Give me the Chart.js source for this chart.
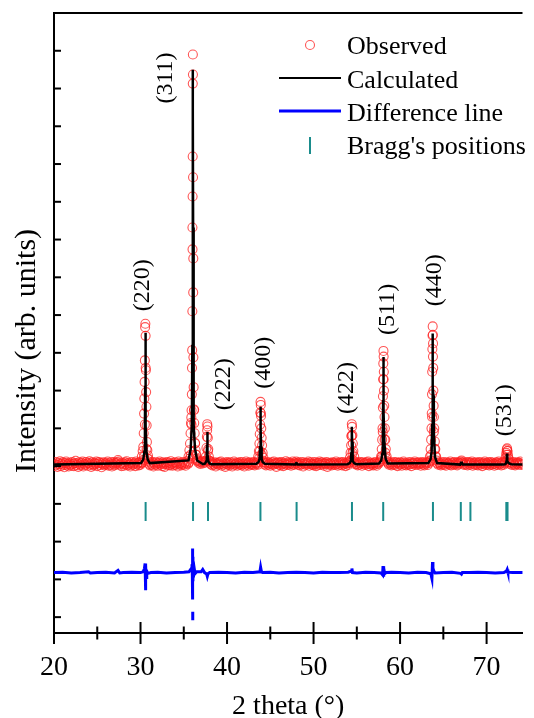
<!DOCTYPE html>
<html>
<head>
<meta charset="utf-8">
<script src="https://cdn.jsdelivr.net/npm/chart.js@4.4.1/dist/chart.umd.min.js"></script>
<style>
  html, body { margin: 0; padding: 0; background: #fff; }
</style>
</head>
<body>
<canvas id="xrd" width="534" height="718"></canvas>
<script>
// observed pattern on the 2-theta grid (start, step) - counts
const obsStart = 20;
const obsStep = 0.1;
const obsBg = [
  4.07, 4.01, 4.11, 4.04, 3.98, 4.09, 4.05, 4.13, 4.00, 4.06,
  4.10, 4.03, 3.97, 4.08, 4.12, 4.02, 4.06, 3.99, 4.09, 4.04,
  4.01, 4.11, 4.06, 4.00, 4.08, 4.14, 4.03, 4.07, 3.98, 4.10,
  4.05, 4.02, 4.09, 4.12, 3.99, 4.06, 4.03, 4.11, 4.07, 4.01,
  4.08, 4.13, 4.04, 3.98, 4.10, 4.05, 4.02, 4.09, 4.06, 4.12,
  4.00, 4.07, 4.11, 4.03, 4.08, 3.97, 4.05, 4.10, 4.02, 4.06,
  4.09, 4.04, 4.12, 4.01, 4.07, 4.03, 4.10, 3.99, 4.06, 4.11,
  4.02, 4.08, 4.05, 4.10, 4.16, 4.12, 4.04, 4.07, 4.00, 4.09,
  4.06, 4.01, 4.10, 4.05, 4.13, 4.02, 4.08, 4.04, 3.99, 4.07,
  4.11, 4.03, 4.06, 4.09, 4.00, 4.12, 4.05, 4.08, 4.02, 4.10,
  4.04, 4.08, 4.10, 4.15, 4.25, 5.10, 6.60, 4.45, 4.20, 4.12,
  4.06, 4.02, 4.09, 4.04, 4.11, 3.99, 4.07, 4.03, 4.10, 4.05,
  4.01, 4.08, 4.12, 4.04, 4.07, 4.00, 4.10, 4.06, 3.98, 4.09,
  4.05, 4.11, 4.03, 4.08, 4.02, 4.13, 4.06, 4.01, 4.09, 4.04,
  4.10, 4.03, 4.07, 3.99, 4.12, 4.05, 4.08, 4.02, 4.06, 4.11,
  4.04, 4.09, 4.01, 4.07, 4.13, 4.06, 4.10, 4.20, 4.30, 5.10,
  10.32, 9.50, 5.50, 4.60, 4.30, 4.20, 4.13, 4.09, 4.12, 4.06,
  4.10, 4.14, 4.07, 4.11, 4.09, 4.13, 4.15, 4.95, 4.40, 4.15,
  4.09, 4.05, 4.11, 4.02, 4.07, 4.04, 4.10, 3.99, 4.06, 4.08,
  4.03, 4.10, 4.05, 4.12, 4.01, 4.07, 4.04, 4.09, 3.98, 4.06,
  4.11, 4.04, 4.08, 4.02, 4.10, 4.05, 3.99, 4.07, 4.12, 4.03,
  4.06, 4.09, 4.01, 4.08, 4.04, 4.11, 4.06, 4.02, 4.10, 4.05,
  3.99, 4.07, 4.12, 4.04, 4.08, 4.01, 4.10, 4.06, 4.03, 4.09,
  4.05, 4.11, 4.02, 4.08, 4.06, 4.10, 4.04, 4.20, 4.40, 5.40,
  4.30, 4.15, 4.10, 4.05, 4.09, 4.02, 4.07, 4.11, 4.04, 4.08,
  4.01, 4.06, 4.10, 4.03, 4.12, 4.05, 4.08, 3.98, 4.07, 4.10,
  4.04, 4.09, 4.02, 4.11, 4.06, 4.00, 4.08, 4.05, 4.13, 4.03,
  4.07, 4.10, 4.04, 4.08, 4.01, 4.06, 4.12, 4.03, 4.09, 4.06,
  4.12, 4.08, 4.04, 4.10, 4.02, 4.07, 4.05, 4.11, 3.99, 4.06,
  4.09, 4.03, 4.08, 4.05, 4.12, 4.01, 4.07, 4.10, 4.04, 4.06,
  4.02, 4.11, 4.06, 4.00, 4.09, 4.04, 4.08, 4.12, 4.03, 4.07,
  4.10, 4.05, 4.01, 4.08, 4.06, 4.11, 3.98, 4.07, 4.04, 4.09,
  4.06, 4.02, 4.10, 4.05, 4.08, 4.03, 4.12, 4.06, 4.01, 4.09,
  4.04, 4.10, 4.07, 4.02, 4.11, 4.05, 4.08, 4.00, 4.06, 4.10,
  4.03, 4.08, 4.12, 4.15, 4.80, 4.35, 4.15, 4.09, 4.05, 4.11,
  4.06, 4.02, 4.09, 4.04, 4.11, 4.07, 4.01, 4.10, 4.05, 4.08,
  4.03, 4.10, 4.06, 4.12, 4.00, 4.07, 4.04, 4.09, 4.06, 4.02,
  4.08, 4.11, 4.05, 4.01, 4.09, 4.06, 4.10, 4.13, 4.18, 4.25,
  4.90, 6.30, 4.70, 4.35, 4.20, 4.12, 4.08, 4.04, 4.10, 4.06,
  4.02, 4.09, 4.05, 4.11, 4.03, 4.07, 4.10, 4.00, 4.08, 4.04,
  4.10, 4.05, 4.01, 4.08, 4.12, 4.04, 4.07, 4.02, 4.09, 4.06,
  4.03, 4.11, 4.06, 4.00, 4.09, 4.05, 4.08, 4.12, 4.03, 4.07,
  4.09, 4.04, 4.10, 4.06, 4.01, 4.08, 4.11, 4.05, 4.02, 4.09,
  4.06, 4.10, 4.03, 4.08, 4.12, 4.15, 4.30, 5.30, 6.90, 4.90,
  4.45, 4.25, 4.15, 4.08, 4.04, 4.10, 4.06, 4.02, 4.09, 4.05,
  4.11, 4.03, 4.07, 4.01, 4.10, 4.06, 4.08, 4.04, 4.12, 4.02,
  4.07, 4.09, 4.04, 4.11, 4.05, 4.08, 4.02, 4.10, 4.06, 4.09,
  4.12, 4.15, 4.10, 4.06, 4.03, 4.09, 4.05, 4.11, 4.02, 4.07,
  4.10, 4.04, 4.08, 4.12, 4.01, 4.06, 4.09, 4.03, 4.10, 4.05,
  4.02, 4.08, 4.11, 4.04, 4.07, 4.00, 4.09, 4.06, 4.12, 4.03,
  4.08, 4.05, 4.10, 4.02, 4.07, 4.11, 4.04, 4.09, 4.06, 4.01,
  4.06, 4.10, 4.03, 4.08, 4.12, 4.05, 4.07, 4.02, 4.09, 4.11,
  4.04, 4.08, 4.12, 4.30, 4.40, 4.20, 4.10, 4.06, 4.09, 4.03,
  4.07, 4.11, 4.05, 4.02, 4.09, 4.06, 4.10, 4.04, 4.08, 4.12,
  4.03, 4.07, 4.05
];

// extra observed points on the peak flanks
const peakObsX = [
  30.15, 30.25, 30.32, 30.37, 30.41, 30.44, 30.47, 30.50, 30.53, 30.56, 30.59, 30.62, 30.65, 30.68, 30.71, 30.74, 30.79, 30.86, 30.95,
  35.55, 35.65, 35.72, 35.78, 35.83, 35.87, 35.90, 35.93, 35.95, 35.97, 35.99, 36.01, 36.02, 36.03, 36.04, 36.05, 36.06, 36.07, 36.09, 36.11, 36.14, 36.17, 36.21, 36.26, 36.31, 36.37, 36.45, 36.55,
  37.55, 37.62, 37.67, 37.71, 37.74, 37.78, 37.83, 37.90, 37.98,
  43.60, 43.68, 43.74, 43.78, 43.82, 43.85, 43.87, 43.90, 43.93, 43.96, 44.00, 44.05, 44.12, 44.20,
  54.20, 54.28, 54.34, 54.38, 54.42, 54.45, 54.49, 54.54, 54.60, 54.70,
  57.80, 57.88, 57.93, 57.97, 58.01, 58.02, 58.04, 58.06, 58.08, 58.10, 58.12, 58.14, 58.17, 58.20, 58.24, 58.29, 58.35, 58.45,
  63.45, 63.53, 63.59, 63.63, 63.66, 63.69, 63.71, 63.73, 63.75, 63.77, 63.79, 63.81, 63.83, 63.85, 63.88, 63.91, 63.95, 64.02, 64.07, 64.17,
  72.20, 72.28, 72.33, 72.37, 72.41, 72.47, 72.55
];
const peakObsY = [
  4.25, 4.40, 4.51, 4.87, 5.39, 5.79, 6.23, 6.80, 7.68, 7.77, 7.45, 6.54, 5.96, 5.57, 5.08, 4.64, 4.42, 4.28, 4.18,
  4.25, 4.42, 4.60, 4.87, 5.14, 5.29, 5.48, 5.90, 6.60, 7.07, 8.10, 9.74, 11.14, 12.20, 14.13, 14.90, 14.37, 11.65, 8.60, 6.88, 6.09, 5.48, 5.14, 4.87, 4.61, 4.42, 4.30, 4.16,
  4.25, 4.48, 4.78, 5.11, 5.05, 4.75, 4.45, 4.25, 4.14,
  4.25, 4.40, 4.60, 4.85, 5.10, 5.42, 5.70, 5.62, 5.33, 5.00, 4.75, 4.55, 4.35, 4.22,
  4.22, 4.35, 4.55, 4.80, 5.11, 5.04, 4.82, 4.60, 4.40, 4.25,
  4.25, 4.45, 4.70, 5.00, 5.55, 5.85, 6.30, 6.72, 7.05, 6.90, 6.50, 6.00, 5.60, 5.30, 5.00, 4.70, 4.45, 4.25,
  4.25, 4.45, 4.70, 5.00, 5.40, 5.90, 6.50, 7.10, 7.46, 7.70, 7.48, 7.25, 6.60, 6.00, 5.60, 5.30, 5.00, 4.65, 4.45, 4.25,
  4.22, 4.35, 4.44, 4.47, 4.40, 4.30, 4.20
];

// calculated profile
const calcX = [
  20.00,
  30.07, 30.32, 30.45, 30.51, 30.54, 30.558, 30.57, 30.582, 30.60, 30.63, 30.69, 30.82, 31.07,
  35.55, 35.80, 35.93, 35.99, 36.02, 36.038, 36.05, 36.062, 36.08, 36.11, 36.17, 36.30, 36.55,
  37.22, 37.47, 37.60, 37.66, 37.69, 37.708, 37.72, 37.732, 37.75, 37.78, 37.84, 37.97, 38.22,
  43.38, 43.63, 43.76, 43.82, 43.85, 43.868, 43.88, 43.892, 43.91, 43.94, 44.00, 44.13, 44.38,
  47.90, 48.00, 48.03, 48.06, 48.15,
  53.93, 54.18, 54.31, 54.37, 54.40, 54.418, 54.43, 54.442, 54.46, 54.49, 54.55, 54.68, 54.93,
  57.57, 57.82, 57.95, 58.01, 58.04, 58.058, 58.07, 58.082, 58.10, 58.13, 58.19, 58.32, 58.57,
  63.27, 63.52, 63.65, 63.71, 63.74, 63.758, 63.77, 63.782, 63.80, 63.84, 63.90, 64.03, 64.27,
  66.95, 67.05, 67.10, 67.15, 67.25,
  71.86, 72.11, 72.24, 72.30, 72.33, 72.348, 72.36, 72.372, 72.39, 72.42, 72.48, 72.60, 72.86,
  74.20
];
const calcY = [
  4.04,
  4.08, 4.18, 4.39, 5.09, 6.13, 7.18, 7.53, 7.18, 6.13, 5.09, 4.39, 4.18, 4.08,
  4.15, 4.46, 5.09, 7.18, 10.32, 13.45, 14.50, 13.45, 10.32, 7.18, 5.09, 4.46, 4.15,
  4.05, 4.07, 4.13, 4.30, 4.56, 4.81, 4.90, 4.81, 4.56, 4.30, 4.13, 4.07, 4.05,
  4.06, 4.10, 4.19, 4.50, 4.96, 5.42, 5.57, 5.42, 4.96, 4.50, 4.19, 4.10, 4.06,
  4.04, 4.08, 4.10, 4.08, 4.04,
  4.05, 4.08, 4.14, 4.34, 4.64, 4.94, 5.04, 4.94, 4.64, 4.34, 4.14, 4.08, 4.05,
  4.07, 4.15, 4.33, 4.90, 5.75, 6.61, 6.89, 6.61, 5.75, 5.45, 4.60, 4.20, 4.07,
  4.08, 4.18, 4.39, 5.08, 6.12, 7.16, 7.51, 7.16, 6.12, 5.87, 4.90, 4.25, 4.08,
  4.04, 4.09, 4.12, 4.09, 4.04,
  4.04, 4.05, 4.07, 4.13, 4.21, 4.30, 4.33, 4.30, 4.21, 4.13, 4.10, 4.07, 4.05,
  4.04
];

// observed - calculated, offset below the pattern (null = gap in the trace)
const diffX = [
  20, 21, 22, 23, 24, 24.2, 25, 26, 27, 27.4, 27.6, 28, 29, 30, 30.3, 30.45, 30.53, 30.56, 30.59, 30.62, 30.66, 30.72, 30.85,
  31.2, 32, 33, 34, 35, 35.6, 35.85, 35.95, 35.99, 36.01, 36.03, 36.035, 36.036, 36.037, 36.038, 36.045, 36.06, 36.08, 36.12, 36.2, 36.3, 36.5,
  37.0, 37.19, 37.4, 37.65, 37.72, 37.8, 38, 39, 40, 41, 42, 43, 43.8, 43.88, 43.96, 44.1, 45, 46, 47, 48, 49, 50, 51, 52, 53, 54,
  54.38, 54.43, 54.5, 55, 56, 57, 57.8, 57.98, 58.03, 58.08, 58.13, 58.22, 58.4, 59, 60, 61, 62, 63, 63.55, 63.68, 63.75, 63.8, 63.9, 64.05,
  65, 66, 67, 67.1, 67.2, 68, 69, 70, 71, 72, 72.3, 72.38, 72.46, 73, 74.2
];
const diffY = [
  1.18, 1.19, 1.17, 1.18, 1.20, 1.17, 1.18, 1.19, 1.17, 1.24, 1.17, 1.18, 1.19, 1.18, 1.20, 1.28, 1.42, 1.00, 0.71, 1.35, 1.05, 1.22, 1.16,
  1.18, 1.19, 1.17, 1.18, 1.19, 1.20, 1.28, 1.40, 1.10, 1.82, 0.47, null, 0.14, -0.08, null, 1.60, 0.95, 1.45, 1.05, 1.30, 1.15, 1.20,
  1.20, 1.26, 1.18, 1.14, 1.08, 1.15, 1.18, 1.19, 1.18, 1.17, 1.19, 1.18, 1.20, 1.32, 1.22, 1.18, 1.19, 1.17, 1.18, 1.19, 1.18, 1.17, 1.19, 1.18, 1.18, 1.19,
  1.22, 1.29, 1.18, 1.17, 1.19, 1.18, 1.17, 1.12, 1.35, 1.07, 1.30, 1.15, 1.18, 1.19, 1.18, 1.17, 1.19, 1.18, 1.15, 1.02, 1.46, 1.30, 1.22, 1.17,
  1.18, 1.19, 1.16, 1.14, 1.18, 1.18, 1.19, 1.18, 1.17, 1.18, 1.22, 1.26, 1.19, 1.18, 1.18
];

// Bragg reflection positions and the level they are drawn at
const braggPos = [30.59, 36.07, 37.80, 43.86, 48.04, 54.44, 58.05, 63.80, 67.02, 68.13, 72.28, 72.42];
const braggLevel = 2.8;

// hkl labels and where they sit (data units)
const hklLabels = ['(220)', '(311)', '(222)', '(400)', '(422)', '(511)', '(440)', '(531)'];
const hklX = [30.25, 32.93, 39.56, 44.24, 53.82, 58.62, 63.99, 72.04];
const hklY = [8.79, 14.28, 6.17, 6.74, 6.07, 8.15, 8.92, 5.48];

const xTicks = [20, 30, 40, 50, 60, 70];

const serif = "'Liberation Serif', 'Times New Roman', serif";
Chart.defaults.font.family = serif;
Chart.defaults.color = '#000';

const obsPoints = obsBg.map((v, i) => ({ x: obsStart + i * obsStep, y: v }))
  .concat(peakObsX.map((v, i) => ({ x: v, y: peakObsY[i] })));
const calcPoints = calcX.map((v, i) => ({ x: v, y: calcY[i] }));
const diffPoints = diffX.map((v, i) => ({ x: v, y: diffY[i] }));
const braggPoints = braggPos.map(v => ({ x: v, y: braggLevel }));

const obsColor = 'rgba(255, 30, 30, 0.75)';
const calcColor = '#000000';
const diffColor = '#0000ff';
const braggColor = '#1a8c8c';

const overlay = {
  id: 'overlay',
  afterDraw(chart) {
    const { ctx, chartArea: a, scales: { x, y } } = chart;
    ctx.save();
    ctx.strokeStyle = '#000';
    ctx.lineWidth = 2;

    // top frame line
    ctx.beginPath();
    ctx.moveTo(a.left - 1, a.top);
    ctx.lineTo(a.right, a.top);
    ctx.stroke();

    // x ticks cross the axis, minors shorter
    for (let v = 20; v <= 70; v += 5) {
      const px = x.getPixelForValue(v);
      const len = v % 10 === 0 ? 11 : 6.5;
      ctx.beginPath();
      ctx.moveTo(px, a.bottom - len);
      ctx.lineTo(px, a.bottom + len);
      ctx.stroke();
    }
    // y ticks point inward
    for (let v = 0; v <= 15; v++) {
      const py = y.getPixelForValue(v);
      ctx.beginPath();
      ctx.moveTo(a.left, py);
      ctx.lineTo(a.left + 7, py);
      ctx.stroke();
    }

    // y title
    ctx.fillStyle = '#000';
    ctx.font = '30px ' + serif;
    ctx.textAlign = 'center';
    ctx.textBaseline = 'middle';
    ctx.save();
    ctx.translate(27, 351);
    ctx.rotate(-Math.PI / 2);
    ctx.fillText('Intensity (arb. units)', 0, 0);
    ctx.restore();

    // hkl labels
    ctx.font = '24px ' + serif;
    hklLabels.forEach((t, i) => {
      ctx.save();
      ctx.translate(x.getPixelForValue(hklX[i]), y.getPixelForValue(hklY[i]));
      ctx.rotate(-Math.PI / 2);
      ctx.fillText(t, 0, 0);
      ctx.restore();
    });

    // legend
    ctx.font = '26px ' + serif;
    ctx.textAlign = 'left';
    ctx.textBaseline = 'alphabetic';
    ctx.strokeStyle = obsColor;
    ctx.lineWidth = 1.1;
    ctx.beginPath();
    ctx.arc(310, 45, 4.5, 0, Math.PI * 2);
    ctx.stroke();
    ctx.fillText('Observed', 347, 54);

    ctx.strokeStyle = calcColor;
    ctx.lineWidth = 2;
    ctx.beginPath();
    ctx.moveTo(279, 78);
    ctx.lineTo(341, 78);
    ctx.stroke();
    ctx.fillText('Calculated', 347, 87.5);

    ctx.strokeStyle = diffColor;
    ctx.lineWidth = 3;
    ctx.beginPath();
    ctx.moveTo(279, 111);
    ctx.lineTo(341, 111);
    ctx.stroke();
    ctx.fillText('Difference line', 347, 120.5);

    ctx.strokeStyle = braggColor;
    ctx.lineWidth = 2;
    ctx.beginPath();
    ctx.moveTo(310, 137);
    ctx.lineTo(310, 154);
    ctx.stroke();
    ctx.fillText("Bragg's positions", 347, 153.5);

    ctx.restore();
  }
};

new Chart(document.getElementById('xrd'), {
  type: 'scatter',
  data: {
    datasets: [
      {
        label: 'Calculated',
        data: calcPoints,
        showLine: true,
        borderColor: calcColor,
        borderWidth: 2.5,
        pointRadius: 0,
        tension: 0
      },
      {
        label: 'Bragg\'s positions',
        data: braggPoints,
        showLine: false,
        pointStyle: 'line',
        rotation: 90,
        pointRadius: 9.5,
        borderColor: braggColor,
        borderWidth: 2
      },
      {
        label: 'Difference line',
        data: diffPoints,
        showLine: true,
        spanGaps: false,
        borderColor: diffColor,
        borderWidth: 3,
        pointRadius: 0,
        tension: 0
      },
      {
        label: 'Observed',
        data: obsPoints,
        showLine: false,
        pointStyle: 'circle',
        pointRadius: 4.5,
        borderWidth: 1.1,
        borderColor: obsColor,
        backgroundColor: 'rgba(0,0,0,0)'
      }
    ]
  },
  options: {
    responsive: false,
    animation: false,
    layout: { padding: { top: 13, right: 0, left: 0, bottom: 0 } },
    plugins: {
      legend: { display: false },
      tooltip: { enabled: false }
    },
    scales: {
      x: {
        type: 'linear',
        min: 20,
        max: 74.15,
        grid: { display: false },
        border: { display: true, color: '#000', width: 2 },
        ticks: { color: '#000', font: { size: 28 }, padding: 10, maxRotation: 0 },
        afterBuildTicks: s => { s.ticks = xTicks.map(v => ({ value: v })); },
        afterFit: s => { s.height = 85; },
        title: {
          display: true,
          text: '2 theta (°)',
          color: '#000',
          font: { size: 28 },
          padding: { top: 0, bottom: -5 }
        }
      },
      y: {
        type: 'linear',
        min: -0.42,
        max: 16,
        grid: { display: false },
        border: { display: true, color: '#000', width: 2 },
        ticks: { display: false },
        afterFit: s => { s.width = 54; }
      }
    }
  },
  plugins: [overlay]
});
</script>
</body>
</html>
